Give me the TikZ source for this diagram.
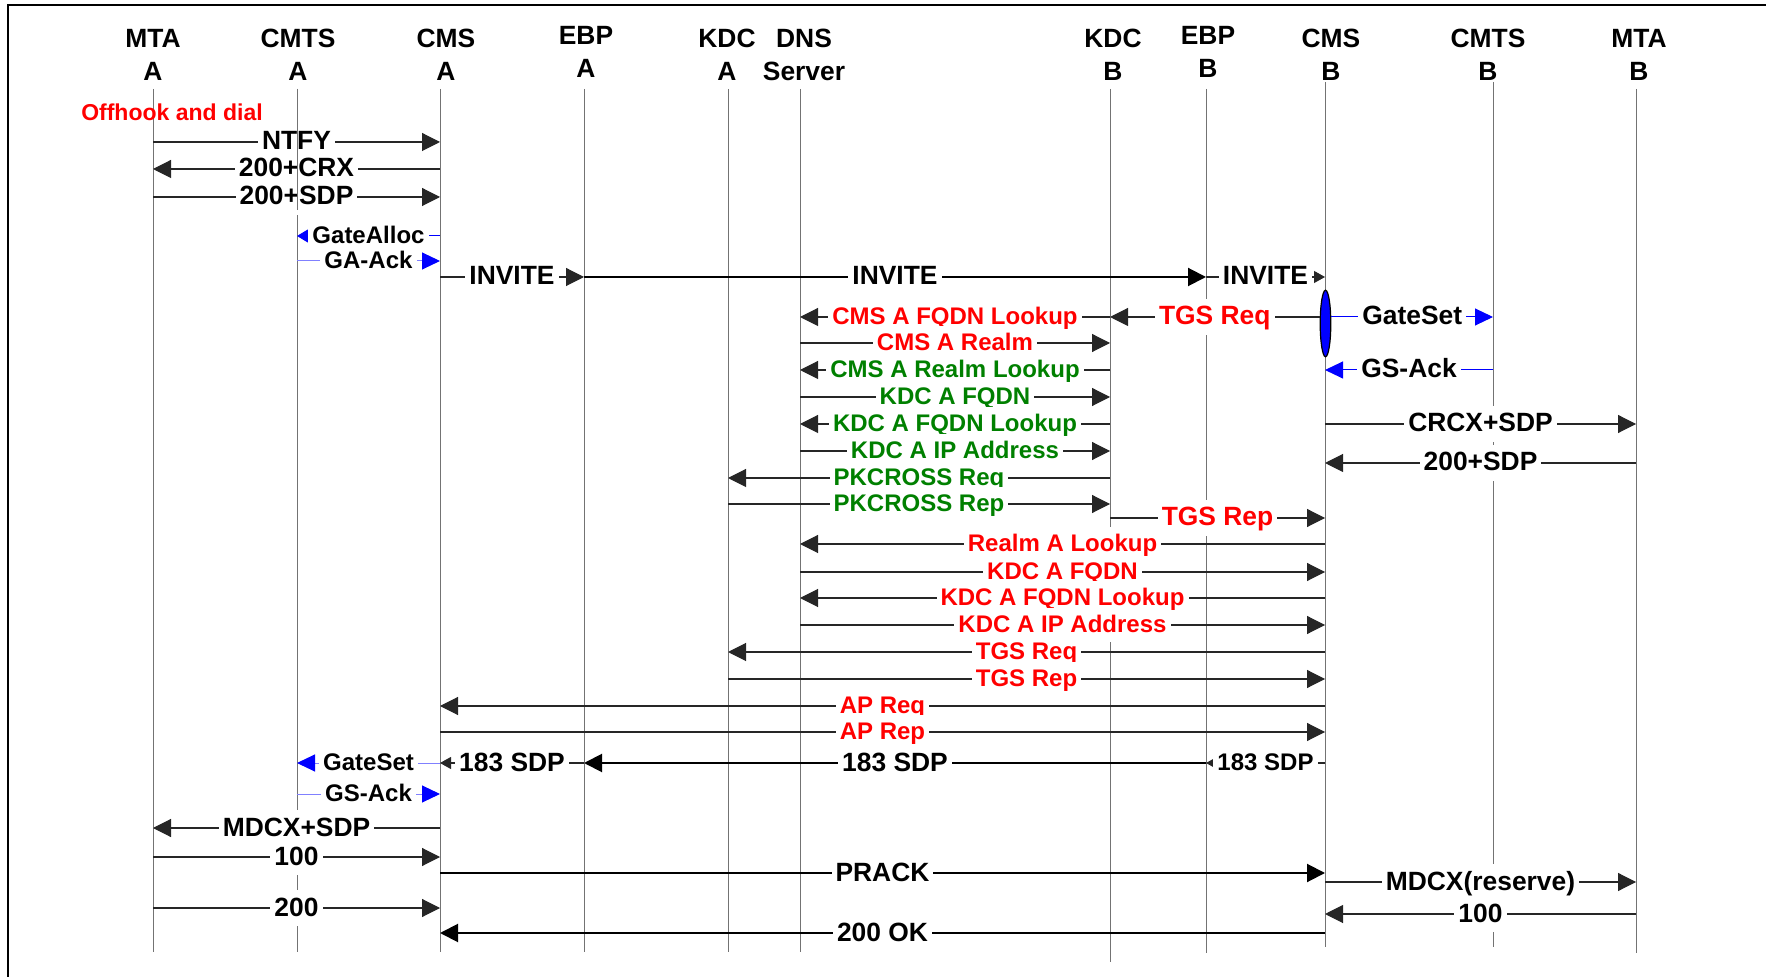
\documentclass[tikz,border=0pt]{standalone}
\usepackage{fontspec}
\setmainfont{Liberation Sans}
\usetikzlibrary{arrows.meta,shapes.geometric}
\definecolor{pcRed}{RGB}{255,0,0}
\definecolor{pcGreen}{RGB}{0,128,0}
\definecolor{pcBlue}{RGB}{0,0,255}

\begin{document}
\begin{tikzpicture}[x=0.5pt, y=-0.5pt,
    hdr/.style={font=\fontsize{13.2}{16.5}\selectfont\bfseries, align=center, inner sep=0pt},
    life/.style={draw=black!55, line width=0.5pt},
    msg/.style={draw=black!85, line width=0.55pt, -{Triangle[length=9pt,width=9pt]}},
    msgs/.style={msg, -{Triangle[length=5.5pt,width=6pt]}},
    msgb/.style={msg, draw=black, line width=1pt},
    bmsg/.style={draw=pcBlue, line width=0.5pt, -{Triangle[length=9pt,width=8.5pt,pcBlue]}},
    lbl/.style={fill=white, font=\fontsize{13.2}{15}\selectfont\bfseries, text height=10pt, text depth=2pt, inner xsep=2pt, inner ysep=3pt},
    slbl/.style={lbl, font=\fontsize{12}{14}\selectfont\bfseries, text height=9pt, text depth=1.8pt}]
    \useasboundingbox (0,0) rectangle (1766,977);

    % frame
    \draw[line width=1pt] (8,977) -- (8,5) -- (1766,5);

    % headers
    \node[hdr] (hMtaA) at (153,55) {MTA\\A};
    \node[hdr] (hCmtsA) at (298,55) {CMTS\\A};
    \node[hdr] (hCmsA) at (446,55) {CMS\\A};
    \node[hdr] (hEbpA) at (586,52) {EBP\\A};
    \node[hdr] (hKdcA) at (727,55) {KDC\\A};
    \node[hdr] (hDns) at (804,55) {DNS\\Server};
    \node[hdr] (hKdcB) at (1113,55) {KDC\\B};
    \node[hdr] (hEbpB) at (1208,52) {EBP\\B};
    \node[hdr] (hCmsB) at (1331,55) {CMS\\B};
    \node[hdr] (hCmtsB) at (1488,55) {CMTS\\B};
    \node[hdr] (hMtaB) at (1639,55) {MTA\\B};

    % lifelines
    \coordinate (mtaA) at (153,89);
    \coordinate (cmtsA) at (297,89);
    \coordinate (cmsA) at (440,89);
    \coordinate (ebpA) at (584,89);
    \coordinate (kdcA) at (728,89);
    \coordinate (dns) at (800,89);
    \coordinate (kdcB) at (1110,89);
    \coordinate (ebpB) at (1206,89);
    \coordinate (cmsB) at (1325,82);
    \coordinate (cmtsB) at (1493,82);
    \coordinate (mtaB) at (1636,89);
    \draw[life] (mtaA) -- (mtaA |- 0,952);
    \draw[life] (cmtsA) -- (cmtsA |- 0,952);
    \draw[life] (cmsA) -- (cmsA |- 0,952);
    \draw[life] (ebpA) -- (ebpA |- 0,952);
    \draw[life] (kdcA) -- (kdcA |- 0,952);
    \draw[life] (dns) -- (dns |- 0,952);
    \draw[life] (kdcB) -- (kdcB |- 0,962);
    \draw[life] (ebpB) -- (ebpB |- 0,953);
    \draw[life] (cmsB) -- (cmsB |- 0,947);
    \draw[life] (cmtsB) -- (cmtsB |- 0,947);
    \draw[life] (mtaB) -- (mtaB |- 0,953);

    \node[text=pcRed, font=\fontsize{11.5}{13}\selectfont\bfseries] (offhook) at (172,112) {Offhook and dial};

    % call setup, side A
    \draw[msg] (mtaA |- 0,142) -- (cmsA |- 0,142) node[lbl, midway] (mNtfy) {NTFY};
    \draw[msg] (cmsA |- 0,169) -- (mtaA |- 0,169) node[lbl, midway] (mCrx) {200+CRX};
    \draw[msg] (mtaA |- 0,197) -- (cmsA |- 0,197) node[lbl, midway] (mSdpA) {200+SDP};
    \draw[life] (cmtsA) -- (cmtsA |- 0,210);
    \draw[bmsg, -{Triangle[length=5.5pt,width=6.5pt,pcBlue]}] (cmsA |- 0,236) -- (cmtsA |- 0,236) node[slbl, midway] (mAlloc) {GateAlloc};
    \draw[bmsg, draw=pcBlue!50] (cmtsA |- 0,261) -- (cmsA |- 0,261) node[slbl, midway] (mGaAck) {GA-Ack};
    \draw[msg] (cmsA |- 0,277) -- (ebpA |- 0,277) node[lbl, midway] (mInv1) {INVITE};
    \draw[msgb] (ebpA |- 0,277) -- (ebpB |- 0,277) node[lbl, midway] (mInv2) {INVITE};
    \draw[msgs] (ebpB |- 0,277) -- (cmsB |- 0,277) node[lbl, midway] (mInv3) {INVITE};

    % gate and first TGS exchange
    \node[ellipse, draw=black, fill=pcBlue, line width=0.6pt, minimum width=5.3pt, minimum height=33.3pt, inner sep=0pt] (gate) at (1325.5,323.5) {};
    \draw[msg] (kdcB |- 0,317) -- (dns |- 0,317) node[slbl, midway, text=pcRed] (mFqdnA) {CMS A FQDN Lookup};
    \draw[msg] (gate.west |- 0,317) -- (kdcB |- 0,317) node[lbl, midway, text=pcRed] (mTgsReq1) {TGS Req};
    \draw[bmsg] (gate.east |- 0,317) -- (cmtsB |- 0,317) node[lbl, midway] (mGateSetB) {GateSet};
    \draw[msg] (dns |- 0,343) -- (kdcB |- 0,343) node[slbl, midway, text=pcRed] (mRealmA) {CMS A Realm};
    \draw[bmsg] (cmtsB |- 0,370) -- (cmsB |- 0,370) node[lbl, midway] (mGsAckB) {GS-Ack};
    \draw[msg] (kdcB |- 0,370) -- (dns |- 0,370) node[slbl, midway, text=pcGreen] (mRealmLk) {CMS A Realm Lookup};
    \draw[msg] (dns |- 0,397) -- (kdcB |- 0,397) node[slbl, midway, text=pcGreen] (mKdcFqdn1) {KDC A FQDN};
    \draw[msg] (kdcB |- 0,424) -- (dns |- 0,424) node[slbl, midway, text=pcGreen] (mKdcLk1) {KDC A FQDN Lookup};
    \draw[msg] (cmsB |- 0,424) -- (mtaB |- 0,424) node[lbl, midway] (mCrcx) {CRCX+SDP};
    \draw[msg] (dns |- 0,451) -- (kdcB |- 0,451) node[slbl, midway, text=pcGreen] (mKdcIp1) {KDC A IP Address};
    \draw[msg] (mtaB |- 0,463) -- (cmsB |- 0,463) node[lbl, midway] (mSdpB) {200+SDP};
    \draw[msg] (kdcB |- 0,478) -- (kdcA |- 0,478) node[slbl, midway, text=pcGreen] (mPkReq) {PKCROSS Req};
    \draw[msg] (kdcA |- 0,504) -- (kdcB |- 0,504) node[slbl, midway, text=pcGreen] (mPkRep) {PKCROSS Rep};
    \draw[msg] (kdcB |- 0,518) -- (cmsB |- 0,518) node[lbl, midway, text=pcRed] (mTgsRep1) {TGS Rep};

    % second TGS exchange and AP
    \draw[msg] (cmsB |- 0,544) -- (dns |- 0,544) node[slbl, midway, text=pcRed] (mRealmLk2) {Realm A Lookup};
    \draw[msg] (dns |- 0,572) -- (cmsB |- 0,572) node[slbl, midway, text=pcRed] (mKdcFqdn2) {KDC A FQDN};
    \draw[msg] (cmsB |- 0,598) -- (dns |- 0,598) node[slbl, midway, text=pcRed] (mKdcLk2) {KDC A FQDN Lookup};
    \draw[msg] (dns |- 0,625) -- (cmsB |- 0,625) node[slbl, midway, text=pcRed] (mKdcIp2) {KDC A IP Address};
    \draw[msg] (cmsB |- 0,652) -- (kdcA |- 0,652) node[slbl, midway, text=pcRed] (mTgsReq2) {TGS Req};
    \draw[msg] (kdcA |- 0,679) -- (cmsB |- 0,679) node[slbl, midway, text=pcRed] (mTgsRep2) {TGS Rep};
    \draw[msg] (cmsB |- 0,706) -- (cmsA |- 0,706) node[slbl, midway, text=pcRed] (mApReq) {AP Req};
    \draw[msg] (cmsA |- 0,732) -- (cmsB |- 0,732) node[slbl, midway, text=pcRed] (mApRep) {AP Rep};

    % 183 and resources
    \draw[msgs] (cmsB |- 0,763) -- (ebpB |- 0,763) node[slbl, midway] (m183a) {183 SDP};
    \draw[msgb] (ebpB |- 0,763) -- (ebpA |- 0,763) node[lbl, midway] (m183b) {183 SDP};
    \draw[msgs] (ebpA |- 0,763) -- (cmsA |- 0,763) node[lbl, midway] (m183c) {183 SDP};
    \draw[bmsg, draw=pcBlue!50] (cmsA |- 0,763) -- (cmtsA |- 0,763) node[slbl, midway] (mGateSetA) {GateSet};
    \draw[bmsg, draw=pcBlue!50] (cmtsA |- 0,794) -- (cmsA |- 0,794) node[slbl, midway] (mGsAckA) {GS-Ack};
    \draw[msg] (cmsA |- 0,828) -- (mtaA |- 0,828) node[lbl, midway] (mMdcx) {MDCX+SDP};
    \draw[msg] (mtaA |- 0,857) -- (cmsA |- 0,857) node[lbl, midway] (m100a) {100};
    \draw[msgb] (cmsA |- 0,873) -- (cmsB |- 0,873) node[lbl, midway] (mPrack) {PRACK};
    \draw[msg] (cmsB |- 0,882) -- (mtaB |- 0,882) node[lbl, midway] (mReserve) {MDCX(reserve)};
    \draw[msg] (mtaA |- 0,908) -- (cmsA |- 0,908) node[lbl, midway] (m200a) {200};
    \draw[msg] (mtaB |- 0,914) -- (cmsB |- 0,914) node[lbl, midway] (m100b) {100};
    \draw[msgb] (cmsB |- 0,933) -- (cmsA |- 0,933) node[lbl, midway] (m200ok) {200 OK};
\end{tikzpicture}
\end{document}
